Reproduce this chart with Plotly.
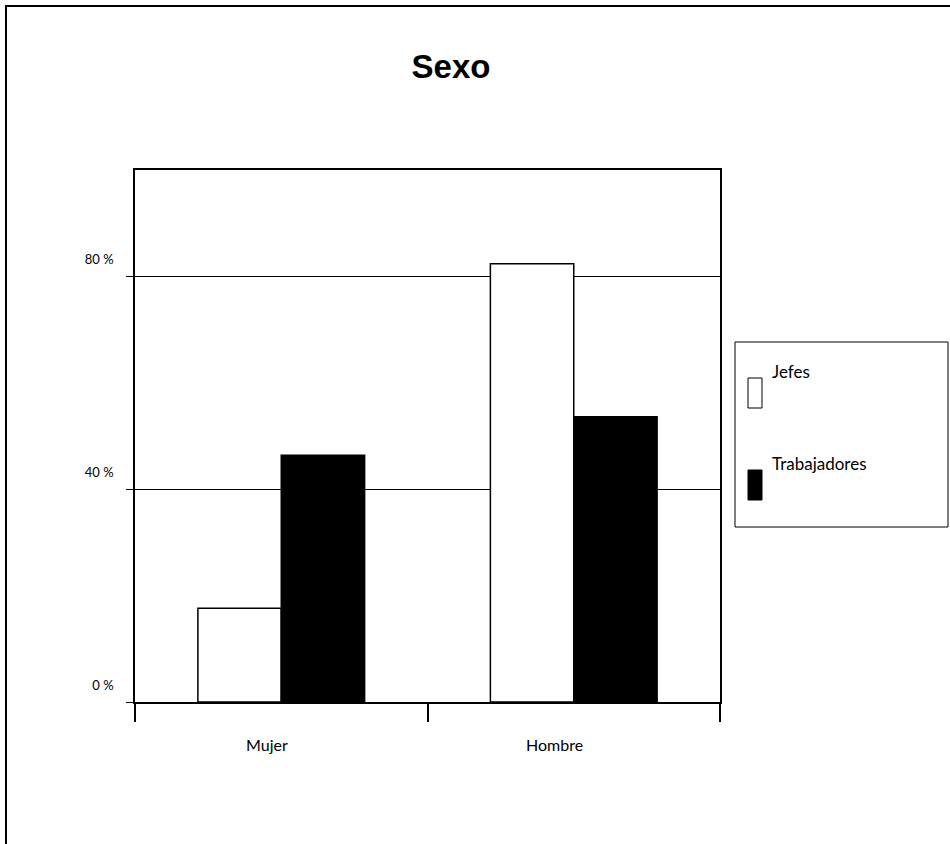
import plotly.graph_objects as go

# Distribución por sexo (% de cada grupo)
categories = ["Mujer", "Hombre"]
series_names = ["Jefes", "Trabajadores"]
jefes = [17.6, 82.4]
trabajadores = [46.4, 53.6]
y_ticks = [0, 40, 80]
y_tick_labels = ["0 %", "40 %", "80 %"]

W, H = 950, 844
ML, MR, MT, MB = 135, 230, 170, 142
PW, PH = W - ML - MR, H - MT - MB


def px_x(p):
    return (p - ML) / PW


def px_y(p):
    return (H - MB - p) / PH


fills = ["white", "black"]
values = [jefes, trabajadores]

fig = go.Figure()
for name, vals, fill in zip(series_names, values, fills):
    fig.add_trace(go.Bar(
        x=categories, y=vals, name=name,
        marker=dict(color=fill, line=dict(color="black", width=1.5)),
        showlegend=False,
    ))

shapes = []
annotations = []

# outer frame
shapes.append(dict(type="rect", xref="paper", yref="paper",
                   x0=px_x(6), x1=px_x(960), y0=px_y(850), y1=px_y(6),
                   line=dict(color="black", width=2), fillcolor="rgba(0,0,0,0)",
                   layer="below"))

# legend box
shapes.append(dict(type="rect", xref="paper", yref="paper",
                   x0=px_x(735), x1=px_x(948), y0=px_y(527), y1=px_y(342),
                   line=dict(color="black", width=1), fillcolor="white"))
sw_tops = [378, 470]
for name, fill, top in zip(series_names, fills, sw_tops):
    shapes.append(dict(type="rect", xref="paper", yref="paper",
                       x0=px_x(748), x1=px_x(762), y0=px_y(top + 30), y1=px_y(top),
                       line=dict(color="black", width=1), fillcolor=fill))
    annotations.append(dict(xref="paper", yref="paper", x=px_x(770), y=px_y(top - 19),
                            text=name, showarrow=False, xanchor="left", yanchor="top",
                            font=dict(family="Lato, Open Sans, sans-serif", size=17, color="black")))

# category labels below the axis
for cat, shift in zip(categories, [-14, -19]):
    annotations.append(dict(xref="x", yref="paper", x=cat, y=px_y(733),
                            text=cat, showarrow=False, xanchor="center", yanchor="top",
                            xshift=shift,
                            font=dict(family="Lato, Open Sans, sans-serif", size=16, color="black")))

fig.update_layout(
    width=W, height=H,
    margin=dict(l=ML, r=MR, t=MT, b=MB, pad=0),
    paper_bgcolor="white", plot_bgcolor="white",
    barmode="group", bargap=0.43, bargroupgap=0,
    title=dict(text="<b>Sexo</b>", x=451 / W, xanchor="center",
               y=1 - 66 / H, yanchor="middle",
               font=dict(family="Liberation Sans, Arial, sans-serif", size=33, color="black")),
    shapes=shapes, annotations=annotations,
    showlegend=False,
)

fig.update_xaxes(
    type="category", showticklabels=False,
    showline=True, linecolor="black", linewidth=1.5, mirror=True,
    ticks="outside", tickson="boundaries", ticklen=18, tickcolor="black", tickwidth=1.5,
    showgrid=False,
)
fig.update_yaxes(
    range=[0, 100], tickvals=y_ticks, ticktext=y_tick_labels,
    showline=True, linecolor="black", linewidth=1.5, mirror=True,
    ticks="outside", ticklen=7, tickcolor="black",
    showgrid=True, gridcolor="black", gridwidth=1,
    zeroline=False,
    ticklabelshift=-17, ticklabelstandoff=10,
    tickfont=dict(family="Lato, Open Sans, sans-serif", size=13, color="black"),
)

fig.write_html("out.html")
